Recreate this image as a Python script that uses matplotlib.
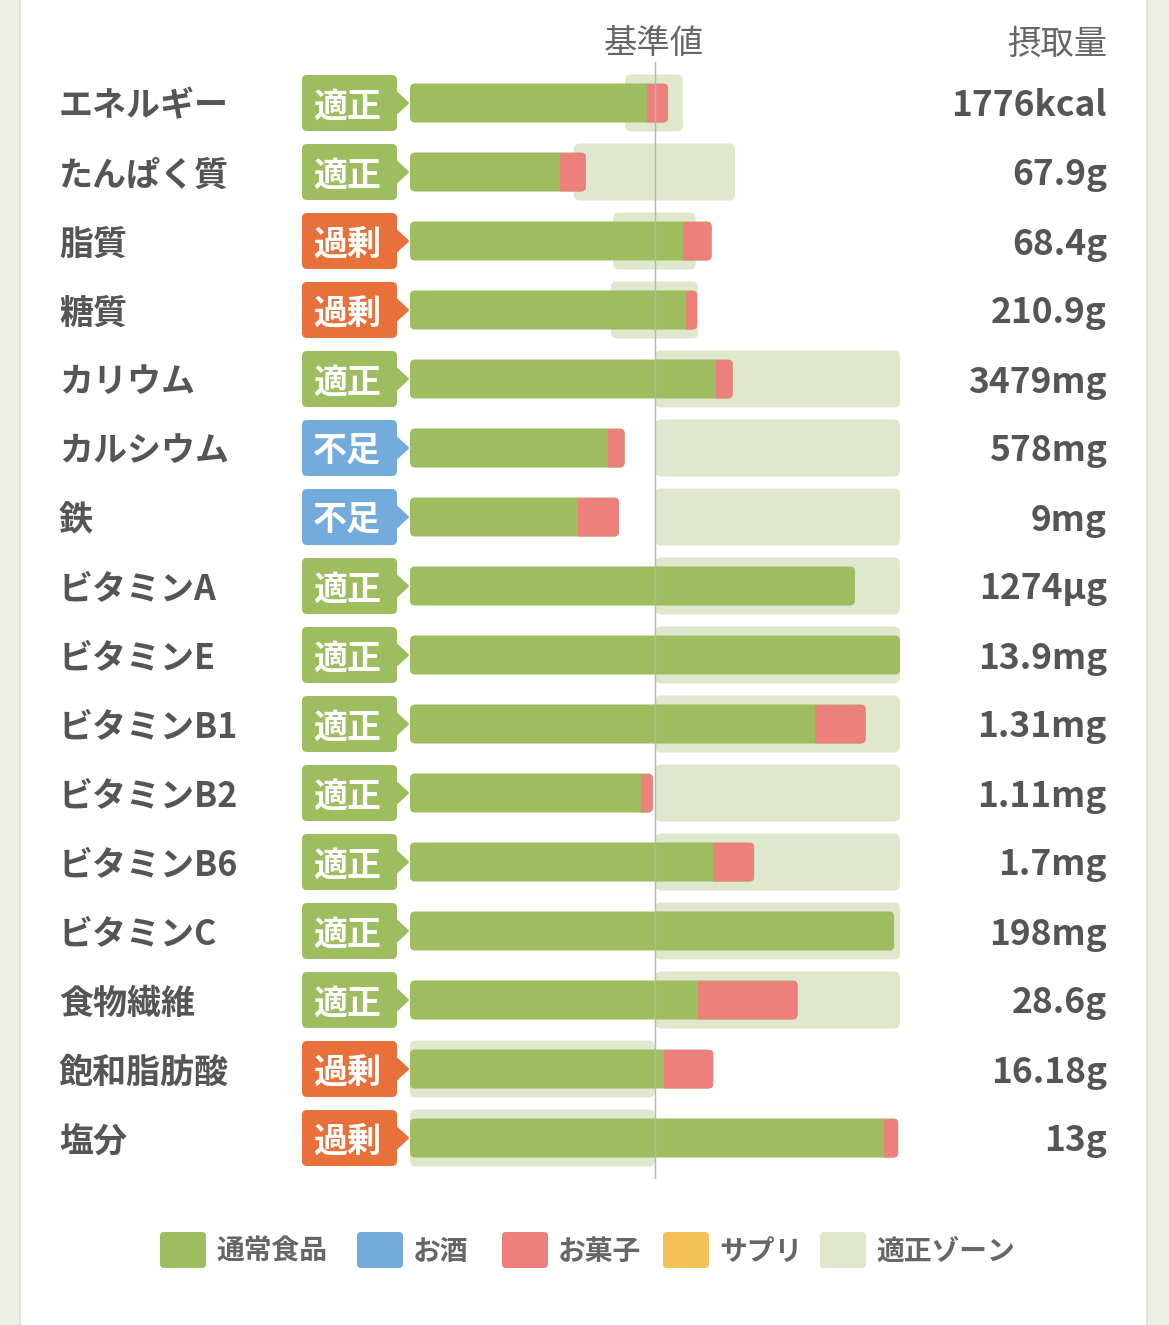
import matplotlib.pyplot as plt
from matplotlib.patches import FancyBboxPatch, Polygon, Rectangle

plt.rcParams['font.family'] = ['Noto Sans CJK JP', 'DejaVu Sans']

# data (percent of reference value, 100 = 基準値)
nutrients = ['エネルギー', 'たんぱく質', '脂質', '糖質', 'カリウム', 'カルシウム', '鉄',
             'ビタミンA', 'ビタミンE', 'ビタミンB1', 'ビタミンB2', 'ビタミンB6',
             'ビタミンC', '食物繊維', '飽和脂肪酸', '塩分']
status = ['適正', '適正', '過剰', '過剰', '適正', '不足', '不足', '適正', '適正', '適正',
          '適正', '適正', '適正', '適正', '過剰', '過剰']
food = [96.6, 61.2, 111.3, 112.7, 124.9, 80.8, 68.6, 181.6, 200.0, 165.3,
        94.2, 123.6, 197.6, 117.4, 103.8, 193.5]
snack = [8.7, 10.6, 11.8, 4.5, 6.8, 6.8, 16.7, 0, 0, 20.7,
         4.9, 16.9, 0, 40.8, 20.0, 5.8]
zone_lo = [87.8, 66.9, 82.9, 82.0, 100, 100, 100, 100, 100, 100,
           100, 100, 100, 100, 0, 0]
zone_hi = [111.4, 132.7, 116.6, 117.6, 200, 200, 200, 200, 200, 200,
           200, 200, 200, 200, 100, 100]
intake = ['1776kcal', '67.9g', '68.4g', '210.9g', '3479mg', '578mg', '9mg', '1274µg',
          '13.9mg', '1.31mg', '1.11mg', '1.7mg', '198mg', '28.6g', '16.18g', '13g']

legend_labels = ['通常食品', 'お酒', 'お菓子', 'サプリ', '適正ゾーン']

GREEN = '#9dbd5e'
BLUE = '#74abdd'
RED = '#ed807d'
YELLOW = '#f3c158'
ZONE = '#dfe8cc'
ORANGE = '#e8703b'
TEXT = '#555555'
legend_colors = [GREEN, BLUE, RED, YELLOW, ZONE]
status_color = {'適正': GREEN, '過剰': ORANGE, '不足': BLUE}

W, H = 1169, 1325
XS = 2.45   # px per percent
YS = 69.0   # px per row
X0, Y0 = 410, 103
DY = 3 / YS  # text baseline nudge


def px(x):
    return (x - X0) / XS


def py(y):
    return (y - Y0) / YS


fig = plt.figure(figsize=(W / 100, H / 100), dpi=100)
fig.patch.set_facecolor('#efefe9')
ax = fig.add_axes([0, 0, 1, 1])
ax.patch.set_alpha(0)
ax.set_xlim(px(0), px(W))
ax.set_ylim(py(H), py(0))
ax.axis('off')
ax.add_patch(Rectangle((20 / W, -0.01), 1127 / W, 1.02, transform=fig.transFigure,
                       facecolor='white', edgecolor='#deded8', lw=1.2, zorder=0,
                       clip_on=False))


def rbox(x0, x1, yc, h_px, color, r_px=5, z=2):
    h = h_px / YS
    p = FancyBboxPatch((x0, yc - h / 2), x1 - x0, h,
                       boxstyle='round,pad=0,rounding_size=%f' % (r_px / XS),
                       mutation_aspect=XS / YS, facecolor=color, edgecolor='none', zorder=z)
    ax.add_patch(p)
    return p


for i in range(len(nutrients)):
    # zone
    rbox(zone_lo[i], zone_hi[i], i, 57, ZONE, r_px=6, z=1)
    # stacked bar
    total = min(food[i] + snack[i], 200)
    bar = rbox(0, total, i, 39, GREEN, r_px=5, z=2)
    if snack[i] > 0:
        r = Rectangle((food[i], i - 39 / YS / 2), total - food[i], 39 / YS,
                      facecolor=RED, edgecolor='none', zorder=3)
        ax.add_patch(r)
        r.set_clip_path(bar)

    # badge
    c = status_color[status[i]]
    rbox(px(302), px(397), i, 56, c, r_px=5, z=2)
    ax.add_patch(Polygon([(px(395), i - 12 / YS), (px(408), i), (px(395), i + 12 / YS)],
                         closed=True, facecolor=c, edgecolor=c, lw=1.5, joinstyle='round', zorder=2))
    ax.text(px(347), i + DY, status[i], ha='center', va='center', color='white',
            fontsize=24.5, weight='bold')

    ax.text(px(59), i + DY, nutrients[i], ha='left', va='center', color=TEXT,
            fontsize=24.5, weight='bold')
    ax.text(px(1107), i + DY, intake[i], ha='right', va='center', color=TEXT,
            fontsize=25.5, weight='bold')

# reference line
ax.plot([100, 100], [py(62), py(1178)], color='#b5b5b5', lw=1, zorder=5)

ax.text(px(654), py(44), '基準値', ha='center', va='center', color='#666666', fontsize=24)
ax.text(px(1107), py(44), '摂取量', ha='right', va='center', color='#666666', fontsize=24)

# legend
leg_x = [160, 357, 502, 663, 820]
for lx, lab, col in zip(leg_x, legend_labels, legend_colors):
    rbox(px(lx), px(lx + 46), py(1250), 36, col, r_px=4, z=2)
    ax.text(px(lx + 56), py(1252), lab, ha='left', va='center', color='#666666',
            fontsize=20, weight='bold')

fig.savefig('out.png', dpi=100, facecolor=fig.get_facecolor())
